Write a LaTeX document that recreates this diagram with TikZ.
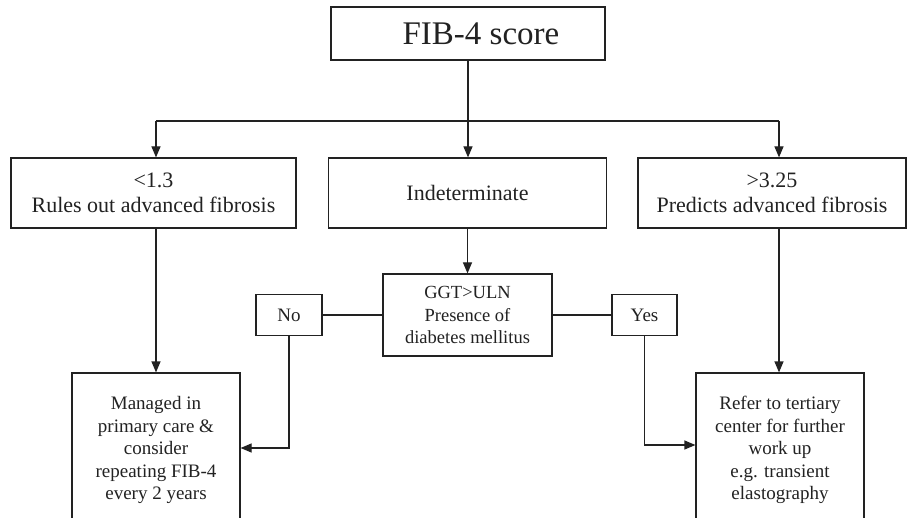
\documentclass[tikz,border=0pt]{standalone}
\usepackage{fontspec}
\setmainfont{Liberation Serif}
\usetikzlibrary{arrows.meta}
\definecolor{ink}{HTML}{222222}
\tikzset{
  box/.style={draw=ink, line width=1.2pt, text=ink, inner sep=0pt, align=center},
  conn/.style={draw=ink, line width=1.2pt},
  arr/.style={conn, -{Triangle[length=11pt,width=9pt]}},
  f22/.style={font=\fontsize{22}{25}\selectfont},
  f19/.style={font=\fontsize{19}{22.5}\selectfont},
}
\begin{document}
\begin{tikzpicture}[x=1pt,y=-1pt]
\useasboundingbox (0,0) rectangle (907,518);
\clip (0,0) rectangle (907,518);
\fill[white] (0,0) rectangle (907,518);
% top
\node[box, minimum width=274pt, minimum height=53pt, font=\fontsize{33}{36}\selectfont] (fib) at (468,33.5) {\hspace*{26pt}FIB-4 score};
% row 2
\node[box, f22, minimum width=285pt, minimum height=70pt] (L) at (153.5,193) {<1.3\\Rules out advanced fibrosis};
\node[box, f22, minimum width=278pt, minimum height=70pt] (M) at (467.5,193) {Indeterminate};
\node[box, f22, minimum width=268pt, minimum height=70pt] (R) at (772,193) {>3.25\\Predicts advanced fibrosis};
% middle decision
\node[box, font=\fontsize{18.5}{22.5}\selectfont, minimum width=169pt, minimum height=82pt] (G) at (467.5,315) {GGT>ULN\\Presence of\\diabetes mellitus};
\node[box, f19, minimum width=66pt, minimum height=41pt] (No) at (289,315) {No};
\node[box, f19, minimum width=65pt, minimum height=41pt] (Yes) at (644.5,315) {Yes};
% bottom
\node[box, f19, minimum width=168pt, minimum height=154pt] (ML) at (156,450) {Managed in\\primary care \&\\consider\\repeating FIB-4\\every 2 years};
\node[box, f19, minimum width=168pt, minimum height=154pt] (MR) at (780,450) {Refer to tertiary\\center for further\\work up\\e.g. transient\\elastography};
% connectors
\coordinate (jl) at (156,121);
\coordinate (jr) at (779,121);
\draw[conn] (fib.south) -- (fib.south |- jl);
\draw[conn] (jl) -- (jr);
\draw[arr] (jl) -- (jl |- L.north);
\draw[arr] (fib.south |- jl) -- (fib.south |- M.north);
\draw[arr] (jr) -- (jr |- R.north);
\draw[arr] (L.south -| jl) -- (ML.north);
\draw[arr] (R.south -| jr) -- (jr |- MR.north);
\draw[arr] (M.south) -- (G.north);
\draw[conn] (G.west) -- (No.east);
\draw[conn] (G.east) -- (Yes.west);
\draw[arr] (No.south) |- ([yshift=2pt]ML.east);
\draw[arr] (Yes.south) |- ([yshift=5pt]MR.west);
\end{tikzpicture}
\end{document}
